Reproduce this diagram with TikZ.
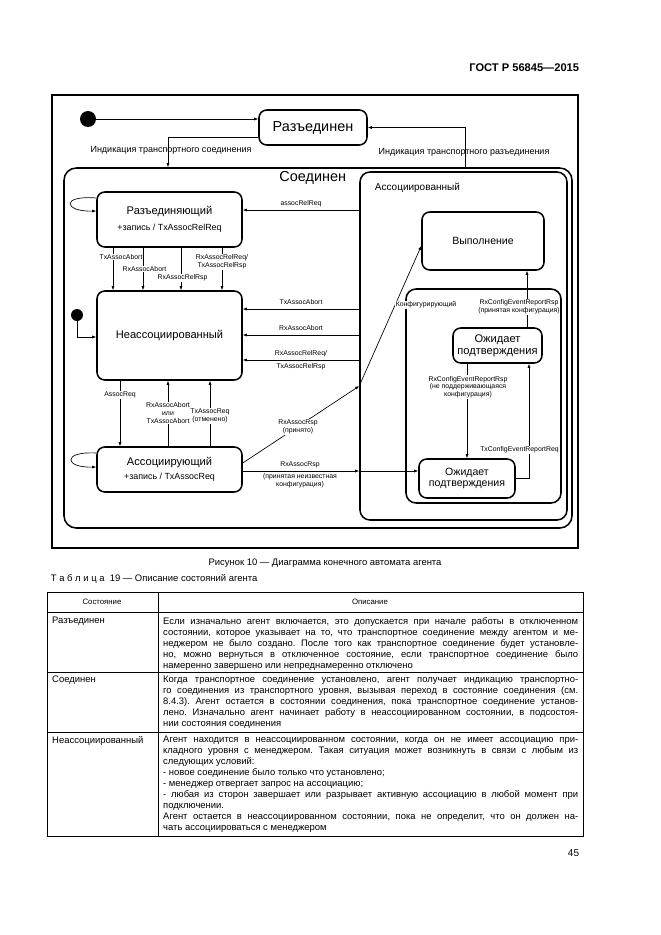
\documentclass[tikz,border=0pt]{standalone}
\usepackage{fontspec}
\setmainfont{Liberation Sans}
\usetikzlibrary{arrows.meta}
\frenchspacing

\newcommand{\jline}[1]{\hbox to 373.5pt{#1}}

\begin{document}
\begin{tikzpicture}[x=0.9pt,y=-0.9pt,
    >={Latex[length=3.6pt,width=2.8pt]},
    state/.style={draw, rounded corners=7pt, line width=1.4pt,
        align=center, inner sep=0pt},
    trans/.style={->, line width=0.6pt},
    lbl/.style={font=\fontsize{6.2}{6.9}\selectfont, inner sep=0.6pt, align=center},
    lblw/.style={lbl, fill=white},
    startdot/.style={circle, fill=black, inner sep=0pt},
    cell/.style={anchor=north west, inner sep=0pt, align=left,
        font=\fontsize{8.5}{9.9}\selectfont}]
    \useasboundingbox (0,0) rectangle (661,935);

    \node[anchor=east, font=\bfseries\fontsize{10}{12}\selectfont] (gost) at (583,68) {ГОСТ Р 56845—2015};
    \node[draw, line width=1.9pt, minimum width=473.4pt, minimum height=407.7pt, inner sep=0pt] (frame) at (315,321.5) {};

    % states
    \node[state, rounded corners=11pt, minimum width=457.2pt, minimum height=324pt] (conn) at (318,348) {};
    \node[state, rounded corners=9pt, minimum width=186.3pt, minimum height=313.2pt] (assoc) at (463.5,346) {};
    \node[state, rounded corners=9pt, minimum width=139.5pt, minimum height=192.6pt] (config) at (483.5,396) {};
    \node[state, minimum width=97.2pt, minimum height=31.5pt, font=\fontsize{13}{15}\selectfont] (disc) at (313,127.5) {Разъединен};
    \node[state, minimum width=130.5pt, minimum height=49.5pt, font=\fontsize{10}{12}\selectfont] (disassoc) at (169.5,219.5) {Разъединяющий\\[2pt]{\fontsize{8}{9}\selectfont +запись / TxAssocRelReq}};
    \node[state, minimum width=130.5pt, minimum height=80.1pt, font=\fontsize{10}{12}\selectfont] (unassoc) at (169.5,335.5) {Неассоциированный};
    \node[state, minimum width=130.5pt, minimum height=40.5pt, font=\fontsize{10}{12}\selectfont] (associating) at (169.5,469.5) {Ассоциирующий\\[1pt]{\fontsize{8}{9}\selectfont +запись / TxAssocReq}};
    \node[state, minimum width=109.8pt, minimum height=52.2pt, font=\fontsize{9.5}{11}\selectfont] (operating) at (483,241) {Выполнение};
    \node[state, minimum width=80.1pt, minimum height=31.5pt, font=\fontsize{10}{11}\selectfont] (waitup) at (497.5,345.5) {Ожидает\\подтверждения};
    \node[state, minimum width=86.4pt, minimum height=35.1pt, font=\fontsize{9.5}{10.5}\selectfont] (waitlo) at (467,478.5) {Ожидает\\подтверждения};

    \node[anchor=east, font=\fontsize{13}{15}\selectfont] (connname) at (350,178) {Соединен};
    \node[anchor=west, font=\fontsize{9}{11}\selectfont] (assocname) at (371,188) {Ассоциированный};

    \node[startdot, minimum size=14.4pt] (start1) at (88,119) {};
    \node[startdot, minimum size=10.8pt] (start2) at (77,315) {};

    % transitions
    \draw[trans] (start1) -- (start1 -| disc.west);
    \draw[trans] (disc.west |- 0,137) -| (conn.north -| 168,0);
    \draw[trans] (conn.north -| 465,0) |- (disc.east);
    \draw[trans] (assoc.west |- 0,210) -- (disassoc.east |- 0,210);
    \draw[trans] (disassoc.west |- 0,198) .. controls (60,195) and (64,212) .. (disassoc.west |- 0,211);
    \draw[trans] (associating.west |- 0,453) .. controls (62,451) and (64,468) .. (associating.west |- 0,467);
    \foreach \x in {113,143,181,222}
        \draw[trans] (disassoc.south -| \x,0) -- (unassoc.north -| \x,0);
    \draw[trans] (start2) |- (unassoc.west |- 0,337);
    \foreach \y in {309,335,360}
        \draw[trans] (assoc.west |- 0,\y) -- (unassoc.east |- 0,\y);
    \draw[trans] (unassoc.south -| 120,0) -- (associating.north -| 120,0);
    \foreach \x in {168,210}
        \draw[trans] (associating.north -| \x,0) -- (unassoc.south -| \x,0);
    \coordinate (accin) at (assoc.west |- 0,386);
    \draw[trans] (associating.east |- 0,463) -- (accin);
    \draw[trans] (accin) -- (operating.west |- 0,246);
    \coordinate (accin2) at (assoc.west |- 0,471);
    \draw[trans] (associating.east |- 0,471) -- (accin2);
    \draw[trans] (accin2) -- (waitlo.west |- 0,471);
    \draw[trans] (waitup.north -| 527,0) -- (operating.south -| 527,0);
    \draw[trans] (waitup.south -| 467,0) -- (waitlo.north -| 467,0);
    \draw[trans] (waitlo.east) -| (waitup.south -| 529,0);

    % labels
    \node[lbl, font=\fontsize{8.1}{9}\selectfont] (lconn) at (171,150) {Индикация транспортного соединения};
    \node[lbl, font=\fontsize{8.1}{9}\selectfont] (ldisc) at (464,152) {Индикация транспортного разъединения};
    \node[lbl] (lrelreq) at (301,204) {assocRelReq};
    \node[lblw] (ld1) at (121,257) {TxAssocAbort};
    \node[lblw] (ld2) at (144.5,269) {RxAssocAbort};
    \node[lblw] (ld3) at (182.5,278) {RxAssocRelRsp};
    \node[lblw] (ld4) at (222,262) {RxAssocRelReq/\\TxAssocRelRsp};
    \node[lbl] (lh1) at (301,302) {TxAssocAbort};
    \node[lbl] (lh2) at (301,328) {RxAssocAbort};
    \node[lbl] (lh3) at (301,354) {RxAssocRelReq/};
    \node[lbl] (lh4) at (301,367) {TxAssocRelRsp};
    \node[lblw] (lreq) at (120,395) {AssocReq};
    \node[lblw] (labort) at (168,413) {RxAssocAbort\\или\\TxAssocAbort};
    \node[lblw] (lcancel) at (210,416) {TxAssocReq\\(отменено)};
    \node[lblw] (lrsp) at (298,427) {RxAssocRsp\\(принято)};
    \node[lbl, anchor=south] (lrsp2) at (300,469) {RxAssocRsp};
    \node[lbl, anchor=north] (lunk) at (300,473) {(принятая неизвестная\\конфигурация)};
    \node[lblw] (configname) at (426,305) {Конфигурирующий};
    \node[lblw] (lok) at (519,307) {RxConfigEventReportRsp\\(принятая конфигурация)};
    \node[lblw] (lbad) at (468,387) {RxConfigEventReportRsp\\(не поддерживающаяся\\конфигурация)};
    \node[lblw] (lsend) at (519.5,450) {TxConfigEventReportReq};

    % caption and table
    \node[font=\fontsize{8.5}{10}\selectfont] (caption) at (325,563) {Рисунок 10 — Диаграмма конечного автомата агента};
    \node[anchor=west, font=\fontsize{8.5}{10}\selectfont] (tabtitle) at (47,579) {Т а б л и ц а\ \ 19 — Описание состояний агента};
    \draw[line width=0.6pt] (47,592) rectangle (583,836);
    \foreach \y in {612,672,732}
        \draw[line width=0.6pt] (47,\y) -- (583,\y);
    \draw[line width=0.6pt] (158,592) -- (158,836);
    \node[font=\fontsize{7}{8}\selectfont] (hstate) at (102,602) {Состояние};
    \node[font=\fontsize{7}{8}\selectfont] (hdescr) at (370,602) {Описание};

    \node[cell] (s1) at (52,617) {Разъединен};
    \node[cell] (s2) at (52,676) {Соединен};
    \node[cell] (s3) at (52,736) {Неассоциированный};
    \node[cell] (d1) at (163,617) {%
        \jline{Если изначально агент включается, это допускается при начале работы в отключенном}\\
        \jline{состоянии, которое указывает на то, что транспортное соединение между агентом и ме-}\\
        \jline{неджером не было создано. После того как транспортное соединение будет установле-}\\
        \jline{но, можно вернуться в отключенное состояние, если транспортное соединение было}\\
        намеренно завершено или непреднамеренно отключено};
    \node[cell] (d2) at (163,676) {%
        \jline{Когда транспортное соединение установлено, агент получает индикацию транспортно-}\\
        \jline{го соединения из транспортного уровня, вызывая переход в состояние соединения (см.}\\
        \jline{8.4.3). Агент остается в состоянии соединения, пока транспортное соединение установ-}\\
        \jline{лено. Изначально агент начинает работу в неассоциированном состоянии, в подсостоя-}\\
        нии состояния соединения};
    \node[cell] (d3) at (163,736) {%
        \jline{Агент находится в неассоциированном состоянии, когда он не имеет ассоциацию при-}\\
        \jline{кладного уровня с менеджером. Такая ситуация может возникнуть в связи с любым из}\\
        следующих условий:\\
        - новое соединение было только что установлено;\\
        - менеджер отвергает запрос на ассоциацию;\\
        \jline{- любая из сторон завершает или разрывает активную ассоциацию в любой момент при}\\
        подключении.\\
        \jline{Агент остается в неассоциированном состоянии, пока не определит, что он должен на-}\\
        чать ассоциироваться с менеджером};

    \node[anchor=east, font=\fontsize{9}{11}\selectfont] (pagenum) at (583,853) {45};
\end{tikzpicture}
\end{document}
